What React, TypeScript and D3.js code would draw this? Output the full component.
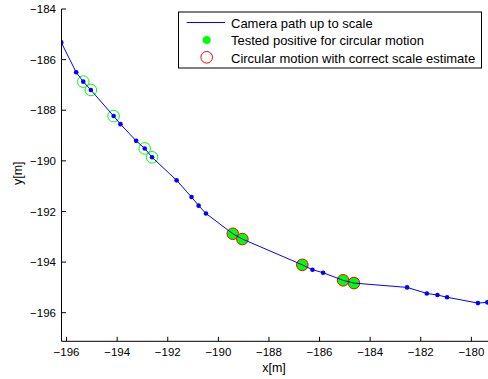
import React from "react";
import * as d3 from "d3";

const pathX = [-196.21, -195.62, -195.34, -195.04, -194.14, -193.87, -193.25, -192.91, -192.62, -191.65, -191.06, -190.78, -190.49, -189.43, -189.05, -186.68, -186.28, -185.86, -185.07, -184.64, -182.54, -181.76, -181.34, -180.96, -179.74, -179.37, -178.9];
const pathY = [-185.32, -186.5, -186.87, -187.2, -188.23, -188.55, -189.21, -189.51, -189.86, -190.77, -191.43, -191.77, -192.08, -192.88, -193.09, -194.11, -194.3, -194.42, -194.72, -194.83, -195.0, -195.24, -195.3, -195.39, -195.62, -195.59, -195.45];

const testedX = [-195.34, -195.04, -194.14, -192.91, -192.62];
const testedY = [-186.87, -187.2, -188.23, -189.51, -189.86];

const correctX = [-189.43, -189.05, -186.68, -185.07, -184.64];
const correctY = [-192.88, -193.09, -194.11, -194.72, -194.83];

const xTicks = [-196, -194, -192, -190, -188, -186, -184, -182, -180];
const yTicks = [-184, -186, -188, -190, -192, -194, -196];

const legendLabels = [
  "Camera path up to scale",
  "Tested positive for circular motion",
  "Circular motion with correct scale estimate",
];

const W = 488;
const H = 379;
const L = 61.5;
const T = 9;
const B = 341.3;
const PX = 25.3;

export default function App() {
  const x = d3.scaleLinear().domain([-196.2, -179]).range([L, L + 17.2 * PX]);
  const y = d3.scaleLinear().domain([-197.13, -184]).range([B, T]);
  const line = d3
    .line<number>()
    .x((_, i) => x(pathX[i]))
    .y((_, i) => y(pathY[i]));
  const font = "'Liberation Sans', Arial, Helvetica, sans-serif";
  const minus = (v: number) => String(v).replace("-", "\u2212");
  return (
    <svg
      width={W}
      height={H}
      style={{ position: "absolute", left: 0, top: 0, background: "#fff" }}
      fontFamily={font}
    >
      <rect x={0} y={0} width={W} height={H} fill="#fff" />
      <defs>
        <clipPath id="plot">
          <rect x={L} y={0} width={W - L} height={B} />
        </clipPath>
      </defs>
      <g clipPath="url(#plot)">
        {pathX.map((v, i) => (
          <circle key={"d" + i} cx={x(v)} cy={y(pathY[i])} r={2.3} fill="#0000ff" />
        ))}
        {testedX.map((v, i) => (
          <circle key={"t" + i} cx={x(v)} cy={y(testedY[i])} r={5.8} fill="none" stroke="#00ff00" strokeWidth={1} />
        ))}
        {correctX.map((v, i) => (
          <circle key={"c" + i} cx={x(v)} cy={y(correctY[i])} r={5.8} fill="#00ff00" stroke="#ff0000" strokeWidth={1} />
        ))}
        <path d={line(pathX as any) || ""} fill="none" stroke="#0000ff" strokeWidth={1} />
      </g>
      {/* axes */}
      <line x1={L} y1={T} x2={L} y2={B} stroke="#000" strokeWidth={1} />
      <line x1={L} y1={B} x2={W} y2={B} stroke="#000" strokeWidth={1} />
      {xTicks.map((t) => (
        <g key={"xt" + t}>
          <line x1={x(t)} x2={x(t)} y1={B} y2={B - 4.5} stroke="#000" />
          <text x={x(t)} y={356} textAnchor="middle" fontSize={11.5} fill="#000">
            {minus(t)}
          </text>
        </g>
      ))}
      {yTicks.map((t) => (
        <g key={"yt" + t}>
          <line x1={L} x2={L + 4.5} y1={y(t)} y2={y(t)} stroke="#000" />
          <text x={56} y={y(t) + 4.2} textAnchor="end" fontSize={11.5} fill="#000">
            {minus(t)}
          </text>
        </g>
      ))}
      <text x={274} y={372} textAnchor="middle" fontSize={12.5} fill="#000">
        x[m]
      </text>
      <text transform="translate(21.5,173.3) rotate(-90)" textAnchor="middle" fontSize={12.5} fill="#000">
        y[m]
      </text>
      {/* legend */}
      <rect x={178.5} y={12} width={303} height={56} fill="#fff" stroke="#000" strokeWidth={1} />
      <line x1={186.7} x2={225} y1={22.5} y2={22.5} stroke="#0000ff" strokeWidth={1} />
      <circle cx={206.7} cy={40} r={4} fill="#00ff00" />
      <circle cx={206.7} cy={57.3} r={5.8} fill="none" stroke="#ff0000" strokeWidth={1} />
      {legendLabels.map((s, i) => (
        <text key={s} x={231} y={[28.3, 45, 62.5][i]} fontSize={13} fill="#000">
          {s}
        </text>
      ))}
    </svg>
  );
}
